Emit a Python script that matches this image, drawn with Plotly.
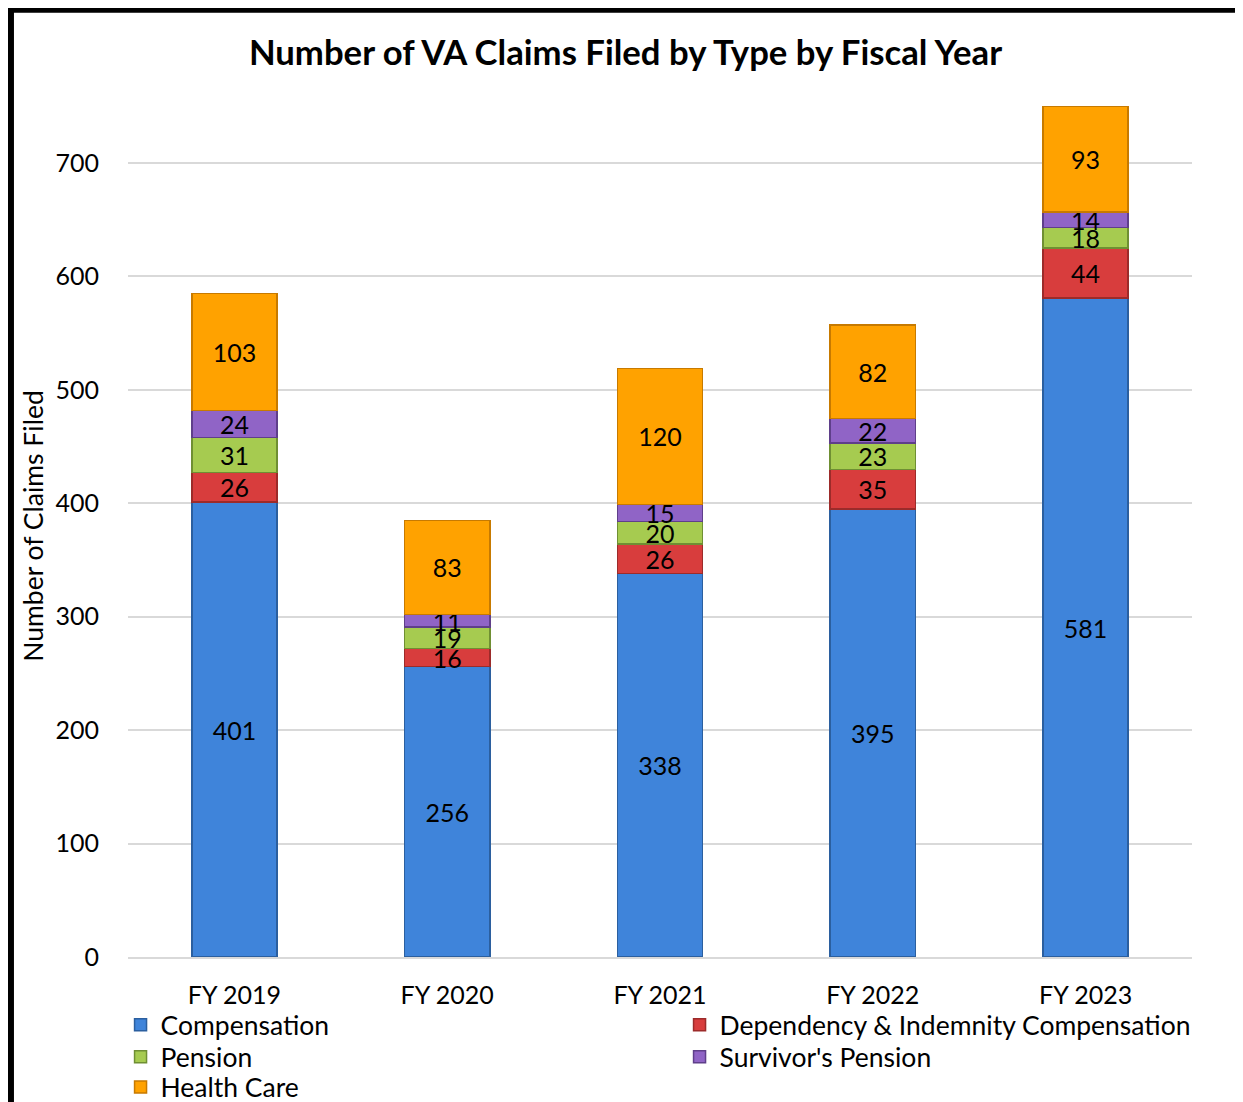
import plotly.graph_objects as go

# Data
years = ["FY 2019", "FY 2020", "FY 2021", "FY 2022", "FY 2023"]
compensation = [401, 256, 338, 395, 581]
dependency = [26, 16, 26, 35, 44]
pension = [31, 19, 20, 23, 18]
survivors = [24, 11, 15, 22, 14]
health_care = [103, 83, 120, 82, 93]

# name, values, fill, outline, legend row
series = [
    ("Compensation", compensation, "#3f84da", "#2b5f9f", "legend"),
    ("Dependency & Indemnity Compensation", dependency, "#d83d3d", "#9c2b2a", "legend"),
    ("Pension", pension, "#a6cb50", "#6f8f33", "legend2"),
    ("Survivor's Pension", survivors, "#9064c6", "#5f3f8a", "legend2"),
    ("Health Care", health_care, "#ffa200", "#c77a00", "legend3"),
]

FONT = "Lato"

fig = go.Figure()
for name, vals, fill, edge, leg in series:
    fig.add_trace(go.Bar(
        x=years, y=vals, name=name, legend=leg,
        marker=dict(color=fill, line=dict(color=edge, width=1.5)),
        text=vals, textposition="inside", insidetextanchor="middle",
        constraintext="none", textangle=0,
        textfont=dict(family=FONT, size=25, color="black"),
    ))

legend_style = dict(orientation="h", x=-0.007, xanchor="left", yanchor="middle",
                    entrywidth=514, entrywidthmode="pixels", traceorder="normal",
                    bgcolor="rgba(0,0,0,0)", font=dict(family=FONT, size=26.5),
                    itemwidth=30)

# page body adds an 8px offset, so the figure is 8px smaller on each axis
fig.update_layout(
    barmode="stack",
    bargap=0.6,
    width=1235, height=1094,
    paper_bgcolor="white", plot_bgcolor="white",
    font=dict(family=FONT, size=24, color="black"),
    title=dict(text="<b>Number of VA Claims Filed by Type by Fiscal Year</b>",
               x=0.5, xanchor="center", y=0.959, yanchor="middle",
               font=dict(family=FONT, size=34.7, color="black")),
    margin=dict(l=120, r=51, t=87, b=145, autoexpand=False),
    xaxis=dict(showline=True, linecolor="#d9d9d9", linewidth=1.5,
               ticks="", ticklabelstandoff=15, tickfont=dict(size=25)),
    yaxis=dict(range=[0, 760], tickvals=[0, 100, 200, 300, 400, 500, 600, 700],
               showgrid=True, gridcolor="#d9d9d9", gridwidth=1.5,
               zeroline=False, ticks="", ticklabelstandoff=28,
               tickfont=dict(size=25),
               title=dict(text="Number of Claims Filed", standoff=4,
                          font=dict(size=26.5))),
    legend=dict(legend_style, y=-0.079),
    legend2=dict(legend_style, y=-0.116),
    legend3=dict(legend_style, y=-0.151),
    shapes=[dict(type="rect", xref="paper", yref="paper",
                 x0=-0.110, x1=1.045, y0=-0.25, y1=1.099,
                 line=dict(color="black", width=6), fillcolor="rgba(0,0,0,0)",
                 layer="above")],
    showlegend=True,
)

fig.write_html("out.html")
